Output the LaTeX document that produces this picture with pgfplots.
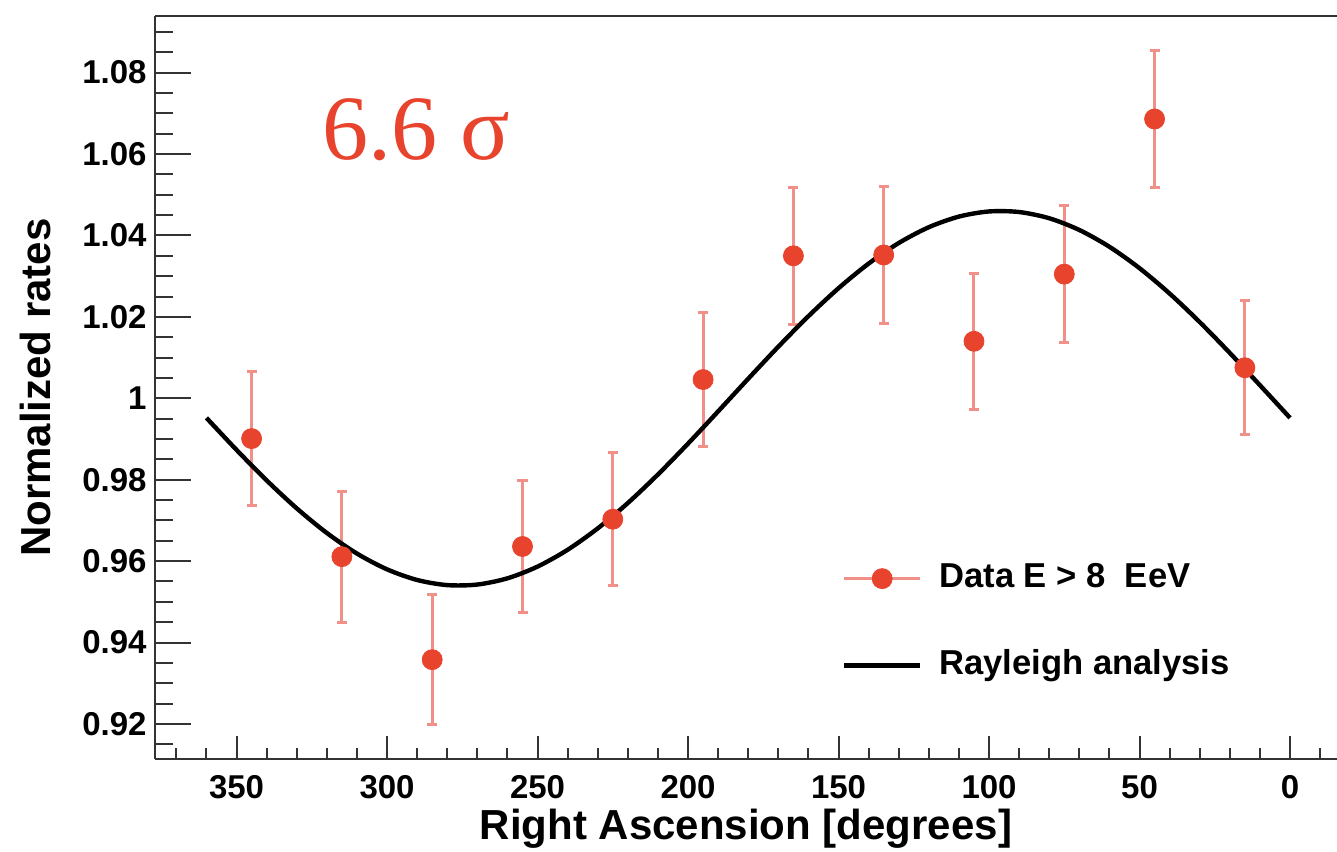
\documentclass[border=0pt]{standalone}
\usepackage{pgfplots}
\pgfplotsset{compat=1.18}
\usepackage{pgfplotstable}
\usepackage{fontspec}
\setmainfont{Liberation Sans}
\newfontfamily\sigmafont{Liberation Serif}

\definecolor{ptcol}{HTML}{E8432D}
\definecolor{errcol}{HTML}{F09088}
\definecolor{axcol}{HTML}{333333}

% Normalized rates in 30-degree right ascension bins
\pgfplotstableread{
ra  rate    err
345 0.9901  0.0164
315 0.9611  0.0161
285 0.9358  0.0159
255 0.9636  0.0162
225 0.9703  0.0163
195 1.0046  0.0165
165 1.0350  0.0168
135 1.0352  0.0168
105 1.0140  0.0167
75  1.0305  0.0168
45  1.0686  0.0169
15  1.0075  0.0165
}\datatable

% First harmonic (Rayleigh) modulation
\pgfplotstableread{
ra  rate
360 0.99519
350 0.98732
340 0.97983
330 0.97296
320 0.96691
310 0.96186
300 0.95798
290 0.95537
280 0.95411
270 0.95425
260 0.95578
250 0.95866
240 0.96279
230 0.96805
220 0.97428
210 0.98129
200 0.98887
190 0.99679
180 1.00481
170 1.01268
160 1.02017
150 1.02704
140 1.03309
130 1.03814
120 1.04202
110 1.04463
100 1.04589
90  1.04575
80  1.04422
70  1.04134
60  1.03721
50  1.03195
40  1.02572
30  1.01871
20  1.01113
10  1.00321
0   0.99519
}\fittable

\pgfplotsset{
  common/.style={
    scale only axis, width=591bp, height=371.5bp,
    x dir=reverse, xmin=-15.6, xmax=377.1,
    ymin=0.9114, ymax=1.0939,
    tick align=inside,
    tick style={color=axcol, line width=1bp},
    axis line style={color=axcol, line width=1.1bp},
    /pgf/number format/assume math mode=true,
    ticklabel style={font=\fontsize{16.5bp}{16.5bp}\selectfont\bfseries},
  },
}

\begin{document}
\begin{tikzpicture}
\useasboundingbox (-77.5bp,-46.5bp) rectangle (591bp,379.5bp);

% y ticks, y labels
\begin{axis}[common,
  axis x line=none, axis y line*=left,
  ytick={0.92,0.94,0.96,0.98,1,1.02,1.04,1.06,1.08},
  minor ytick={0.915,0.92,...,1.09},
  ytick pos=left,
  major tick length=18bp, minor tick length=9bp,
  yticklabel pos=left,
  yticklabel style={anchor=east, inner sep=0pt, xshift=-4bp},
  ylabel={Normalized rates},
  every axis y label/.style={at={(axis description cs:-0.1015,0.5)}, rotate=90, anchor=center,
    font=\fontsize{21bp}{21bp}\selectfont\bfseries},
]
\addplot[draw=none] coordinates {(100,1)};
\end{axis}

% x ticks, data and fit
\begin{axis}[common,
  axis x line*=box, axis y line*=left,
  ytick=\empty,
  xtick={0,50,...,350},
  minor xtick={-10,0,...,370},
  xtick pos=left,
  major tick length=11.5bp, minor tick length=5.5bp,
  xticklabel style={anchor=north, inner sep=0pt, yshift=-8bp},
  xlabel={Right Ascension [degrees]},
  every axis x label/.style={at={(axis description cs:0.5,-0.1090)}, anchor=base,
    font=\fontsize{21bp}{21bp}\selectfont\bfseries},
  legend style={draw=none, fill=none, at={(axis description cs:0.5812,0.2643)}, anchor=north west,
    inner sep=0pt, outer sep=0pt, row sep=27.5bp,
    font=\fontsize{17.3bp}{17.3bp}\selectfont\bfseries,
    nodes={inner sep=0pt, text height=12.4bp, text depth=3.6bp},
    /tikz/every odd column/.append style={column sep=8.5bp}},
  legend cell align=left,
]
\addlegendimage{legend image code/.code={
  \draw[errcol, line width=1.5bp] (0bp,0bp) -- (38bp,0bp);
  \fill[ptcol] (19bp,0bp) circle (5bp);}}
\addlegendentry{Data E > 8~~EeV}

% error bars
\addplot[forget plot, draw=none, mark=none,
  error bars/.cd, y dir=both, y explicit,
  error bar style={errcol, line width=1.5bp},
  error mark options={errcol, line width=1.5bp, mark size=2.5bp, rotate=90}]
  table[x=ra, y=rate, y error=err] {\datatable};

% fit curve
\addplot[black, line width=2.2bp, smooth, mark=none,
  legend image code/.code={\draw[black, line width=2.2bp] (0bp,0bp) -- (38bp,0bp);}]
  table[x=ra, y=rate] {\fittable};
\addlegendentry{Rayleigh analysis}

% data points
\addplot[forget plot, only marks, mark=*, mark size=5bp, mark options={fill=ptcol, draw=ptcol}]
  table[x=ra, y=rate] {\datatable};

\node[anchor=base west, text=ptcol, font=\sigmafont\fontsize{46bp}{46bp}\selectfont]
  at (axis description cs:0.1354,0.8062) {6.6 σ};
\end{axis}
\end{tikzpicture}
\end{document}
